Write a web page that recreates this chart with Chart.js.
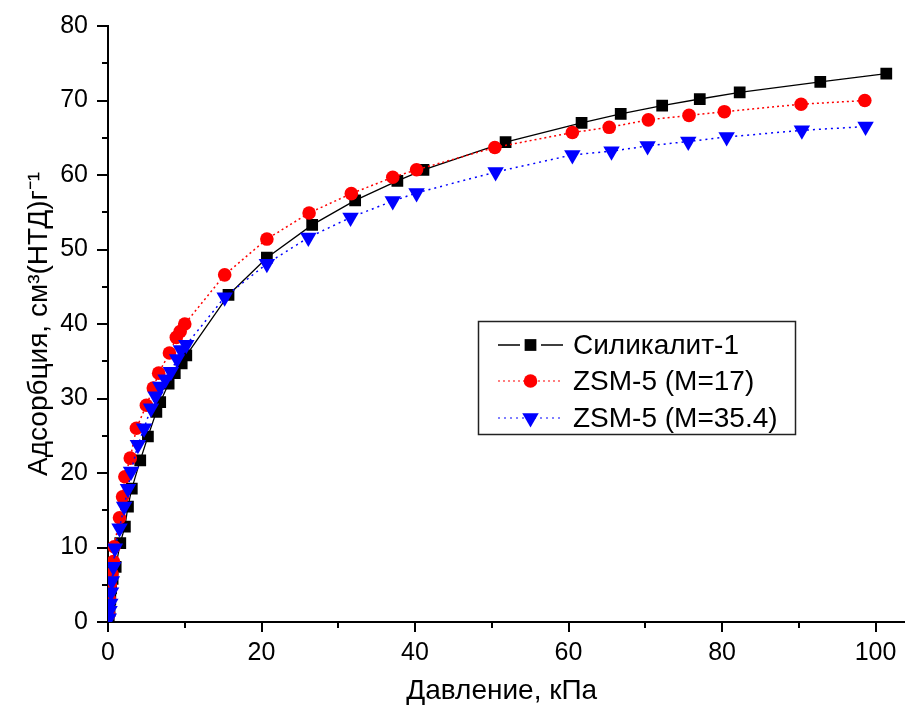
<!DOCTYPE html>
<html>
<head>
<meta charset="utf-8">
<script src="https://cdn.jsdelivr.net/npm/chart.js@4/dist/chart.umd.min.js"></script>
<style>
  html, body { margin: 0; padding: 0; background: #fff; }
</style>
</head>
<body>
<canvas id="isoChart" width="905" height="711"></canvas>
<script>
// давление, кПа / адсорбция, см3(НТД)/г
const silicaliteP = [0.1, 0.2, 0.3, 0.4, 0.6, 1.0, 1.6, 2.2, 2.6, 3.1, 4.2, 5.2, 6.3, 6.8, 7.9, 8.7, 9.6, 10.2, 15.7, 20.7, 26.6, 32.2, 37.7, 41.1, 51.8, 61.7, 66.8, 72.2, 77.1, 82.3, 92.8, 101.4];
const silicaliteA = [0.5, 1.5, 3.0, 4.5, 5.8, 7.4, 10.6, 12.8, 15.5, 17.9, 21.7, 24.9, 28.2, 29.5, 32.0, 33.4, 34.7, 35.8, 43.9, 48.9, 53.3, 56.6, 59.2, 60.7, 64.4, 67.0, 68.2, 69.3, 70.2, 71.1, 72.5, 73.6];

const zsm17P = [0.1, 0.2, 0.3, 0.5, 0.7, 0.8, 1.5, 1.9, 2.2, 2.9, 3.7, 5.0, 5.9, 6.6, 8.0, 8.9, 9.4, 10.0, 15.2, 20.7, 26.2, 31.7, 37.1, 40.2, 50.4, 60.5, 65.3, 70.4, 75.7, 80.3, 90.3, 98.6];
const zsm17A = [1.0, 3.0, 5.0, 6.5, 8.1, 10.1, 14.0, 16.8, 19.5, 22.0, 26.0, 29.1, 31.4, 33.4, 36.1, 38.2, 39.0, 40.0, 46.6, 51.4, 54.9, 57.5, 59.7, 60.7, 63.7, 65.7, 66.4, 67.4, 68.0, 68.5, 69.5, 70.0];

const zsm35P = [0.1, 0.2, 0.3, 0.4, 0.5, 0.7, 0.9, 1.5, 2.1, 2.6, 3.0, 3.9, 4.7, 5.6, 6.2, 6.8, 7.5, 8.2, 9.0, 9.5, 10.2, 15.2, 20.7, 26.1, 31.6, 37.1, 40.2, 50.5, 60.5, 65.6, 70.3, 75.6, 80.6, 90.4, 98.7];
const zsm35A = [0.5, 1.5, 2.5, 4.0, 5.5, 7.4, 9.9, 12.6, 15.5, 17.9, 20.2, 23.8, 26.0, 28.7, 30.3, 31.6, 32.6, 33.6, 35.3, 36.5, 37.2, 43.6, 48.1, 51.6, 54.3, 56.5, 57.6, 60.4, 62.7, 63.2, 63.9, 64.5, 65.1, 66.0, 66.5];

const seriesNames = ['Силикалит-1', 'ZSM-5 (M=17)', 'ZSM-5 (M=35.4)'];

const FONT = '"Liberation Sans", Arial, sans-serif';

const toPoints = (xs, ys) => xs.map((x, i) => ({ x: x, y: ys[i] }));

const datasets = [
    {
        label: seriesNames[0],
        data: toPoints(silicaliteP, silicaliteA),
        borderColor: '#000000',
        backgroundColor: '#000000',
        borderWidth: 1.3,
        pointStyle: 'rect',
        pointRadius: 8.3,
        pointBorderWidth: 0,
        order: 3
    },
    {
        label: seriesNames[1],
        data: toPoints(zsm17P, zsm17A),
        borderColor: '#ff0000',
        backgroundColor: '#ff0000',
        borderWidth: 1.5,
        borderDash: [2, 3],
        pointStyle: 'circle',
        pointRadius: 6.8,
        pointBorderWidth: 0,
        order: 2
    },
    {
        label: seriesNames[2],
        data: toPoints(zsm35P, zsm35A),
        borderColor: '#0000ff',
        backgroundColor: '#0000ff',
        borderWidth: 1.5,
        borderDash: [2, 4],
        pointStyle: 'triangle',
        pointRotation: 180,
        pointRadius: 9.5,
        pointBorderWidth: 0,
        order: 1
    }
];

// маркер для легенды
const drawMarker = (ctx, ds, x, y) => {
    const r = ds.pointRadius;
    ctx.fillStyle = ds.backgroundColor;
    ctx.beginPath();
    if (ds.pointStyle === 'rect') {
        const s = r * Math.SQRT1_2;
        ctx.rect(x - s, y - s, 2 * s, 2 * s);
    } else if (ds.pointStyle === 'circle') {
        ctx.arc(x, y, r, 0, Math.PI * 2);
    } else {
        const w = r * Math.sqrt(3) / 2;
        ctx.moveTo(x - w, y - r / 2);
        ctx.lineTo(x + w, y - r / 2);
        ctx.lineTo(x, y + r);
        ctx.closePath();
    }
    ctx.fill();
};

const legendPlugin = {
    id: 'isoLegend',
    afterDraw(chart) {
        const ctx = chart.ctx;
        ctx.save();
        ctx.strokeStyle = '#222';
        ctx.lineWidth = 1.5;
        ctx.strokeRect(478.5, 321.5, 317, 113);

        const rows = [345, 381, 418];
        datasets.forEach((ds, i) => {
            const y = rows[i];
            ctx.strokeStyle = ds.borderColor;
            ctx.lineWidth = i === 0 ? 1.3 : 1.2;
            ctx.setLineDash(ds.borderDash || []);
            ctx.beginPath();
            if (i === 0) {
                ctx.moveTo(498, y); ctx.lineTo(520, y);
                ctx.moveTo(541, y); ctx.lineTo(563, y);
            } else {
                ctx.moveTo(498, y); ctx.lineTo(563, y);
            }
            ctx.stroke();
            ctx.setLineDash([]);
            drawMarker(ctx, ds, 530.5, y);

            ctx.fillStyle = '#000';
            ctx.font = '28px ' + FONT;
            ctx.textBaseline = 'middle';
            ctx.textAlign = 'left';
            ctx.fillText(ds.label, 573, y + 1);
        });
        ctx.restore();
    }
};

// засечки: большие и малые, наружу
const ticksPlugin = {
    id: 'minorTicks',
    afterDraw(chart) {
        const ctx = chart.ctx;
        const xs = chart.scales.x;
        const ys = chart.scales.y;
        const area = chart.chartArea;
        ctx.save();
        ctx.strokeStyle = '#000';
        ctx.lineWidth = 2;
        ctx.beginPath();
        for (let v = 0; v <= 100; v += 10) {
            const px = Math.round(xs.getPixelForValue(v));
            const len = v % 20 === 0 ? 10 : 6;
            ctx.moveTo(px, area.bottom);
            ctx.lineTo(px, area.bottom + len);
        }
        for (let v = 0; v <= 80; v += 5) {
            const py = Math.round(ys.getPixelForValue(v));
            const len = v % 10 === 0 ? 11 : 6;
            ctx.moveTo(area.left, py);
            ctx.lineTo(area.left - len, py);
        }
        // ось X тянется до края рисунка
        ctx.moveTo(area.right, area.bottom);
        ctx.lineTo(chart.width, area.bottom);
        ctx.stroke();
        ctx.restore();
    }
};

new Chart(document.getElementById('isoChart'), {
    type: 'scatter',
    data: { datasets: datasets.map(ds => Object.assign({ showLine: true, tension: 0 }, ds)) },
    options: {
        responsive: false,
        animation: false,
        layout: { padding: { top: 26, right: 0, left: 0, bottom: 0 } },
        plugins: {
            legend: { display: false },
            tooltip: { enabled: false }
        },
        scales: {
            x: {
                type: 'linear',
                min: 0,
                max: 102.6,
                afterFit: (s) => {
                    s.height = 89;
                    s.paddingLeft = 0;
                    s.paddingRight = 0;
                },
                grid: { display: false, drawTicks: false },
                border: { display: true, color: '#000', width: 2 },
                ticks: {
                    stepSize: 20,
                    includeBounds: false,
                    padding: 16,
                    color: '#000',
                    font: { family: FONT, size: 25 }
                },
                title: {
                    display: true,
                    text: 'Давление, кПа',
                    color: '#000',
                    font: { family: FONT, size: 28 },
                    padding: { top: 0, bottom: 3 }
                }
            },
            y: {
                min: 0,
                max: 80,
                afterFit: (s) => {
                    s.width = 108;
                    s.paddingTop = 0;
                    s.paddingBottom = 0;
                },
                grid: { display: false, drawTicks: false },
                border: { display: true, color: '#000', width: 2 },
                ticks: {
                    stepSize: 10,
                    padding: 20,
                    color: '#000',
                    font: { family: FONT, size: 25 }
                },
                title: {
                    display: true,
                    text: 'Адсорбция, см³(НТД)г⁻¹',
                    color: '#000',
                    font: { family: FONT, size: 28 },
                    padding: { top: 22, bottom: 0 }
                }
            }
        }
    },
    plugins: [legendPlugin, ticksPlugin]
});
</script>
</body>
</html>
